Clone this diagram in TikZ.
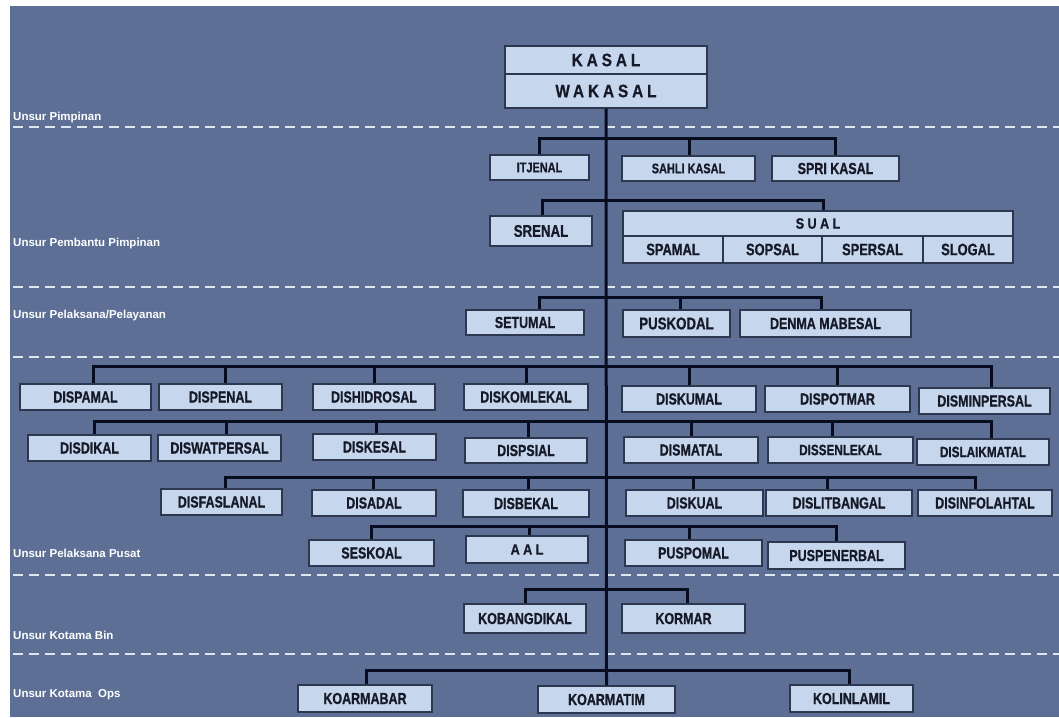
\documentclass[tikz,border=0pt]{standalone}
\usepackage{fontspec}
\setmainfont{Liberation Sans}
\newfontfamily\bxfont{Liberation Sans}[FakeStretch=0.78,FakeBold=0.8]
\newfontfamily\spfont{Liberation Sans}[FakeStretch=0.85,LetterSpace=22,FakeBold=0.6]
\usetikzlibrary{calc}
\definecolor{bgc}{RGB}{94,111,150}
\definecolor{boxfill}{RGB}{198,214,236}
\definecolor{boxline}{RGB}{45,55,80}
\definecolor{boxtext}{RGB}{22,26,40}
\definecolor{connc}{RGB}{8,12,32}
\definecolor{sepc}{RGB}{222,230,242}
\tikzset{
 box/.style={draw=boxline,line width=1.4pt,fill=boxfill,inner sep=0pt,text=boxtext,font=\bxfont\bfseries\fontsize{16}{18}\selectfont},
 fs/.style={font=\bxfont\bfseries\fontsize{#1}{#1}\selectfont},
 sp/.style={font=\spfont\bfseries\fontsize{#1}{#1}\selectfont},
 conn/.style={draw=connc,line width=3pt},
 sep/.style={draw=sepc,line width=2.7pt,dash pattern=on 10pt off 6pt},
 lbl/.style={text=white,anchor=west,inner sep=0pt,font=\bfseries\fontsize{11.5}{13}\selectfont}
}
\newcommand\mkbox[7][]{\node[box,#1,minimum width={(#5-#3)*1pt},minimum height={(#6-#4)*1pt}] (#2) at ({(#3+#5)/2},{(#4+#6)/2}) {#7};}
\newcommand\dropto[3]{\draw[conn] ($(#1.north)+(#2,0)$) |- (#3);}
\begin{document}
\begin{tikzpicture}[x=1pt,y=-1pt]
\useasboundingbox (0,0) rectangle (1059,717);
\fill[white] (0,0) rectangle (1059,717);
\fill[bgc] (10,6) rectangle (1059,717);
% separators
\foreach \yy in {127,287,357,575,654} {\draw[sep] (13,\yy) -- (1059,\yy);}
% labels
\node[lbl] (l1) at (13,118) {Unsur Pimpinan};
\node[lbl] (l2) at (13,244) {Unsur Pembantu Pimpinan};
\node[lbl] (l3) at (13,316) {Unsur Pelaksana/Pelayanan};
\node[lbl] (l4) at (13,553) {Unsur Pelaksana Pusat};
\node[lbl] (l5) at (13,635) {Unsur Kotama Bin};
\node[lbl] (l6) at (13,695) {Unsur Kotama~ Ops};
% boxes
\mkbox[sp=18]{kasal}{505}{46}{707}{74}{KASAL}
\mkbox[sp=18]{wakasal}{505}{74}{707}{108}{WAKASAL}
\mkbox[fs=14]{itjenal}{490}{155}{589}{180}{ITJENAL}
\mkbox[fs=14]{sahli}{622}{156}{755}{181}{SAHLI KASAL}
\mkbox[fs=16]{spri}{772}{156}{899}{181}{SPRI KASAL}
\mkbox[fs=17]{srenal}{490}{216}{592}{246}{SRENAL}
\mkbox[sp=15]{sual}{623}{211}{1013}{236}{SUAL}
\mkbox[fs=16.5]{spamal}{623}{236}{723}{263}{SPAMAL}
\mkbox[fs=16.5]{sopsal}{723}{236}{822}{263}{SOPSAL}
\mkbox[fs=16.5]{spersal}{822}{236}{923}{263}{SPERSAL}
\mkbox[fs=16.5]{slogal}{923}{236}{1013}{263}{SLOGAL}
\mkbox{setumal}{466}{310}{584}{335}{SETUMAL}
\mkbox[fs=17]{puskodal}{623}{310}{730}{337}{PUSKODAL}
\mkbox{denma}{740}{310}{911}{337}{DENMA MABESAL}
\mkbox{dispamal}{20}{384}{151}{410}{DISPAMAL}
\mkbox{dispenal}{159}{384}{282}{410}{DISPENAL}
\mkbox{dishidrosal}{313}{384}{435}{410}{DISHIDROSAL}
\mkbox{diskomlekal}{464}{384}{588}{410}{DISKOMLEKAL}
\mkbox{diskumal}{622}{386}{756}{412}{DISKUMAL}
\mkbox{dispotmar}{765}{386}{910}{412}{DISPOTMAR}
\mkbox{disminpersal}{919}{388}{1050}{414}{DISMINPERSAL}
\mkbox{disdikal}{28}{435}{151}{461}{DISDIKAL}
\mkbox{diswatpersal}{158}{435}{281}{461}{DISWATPERSAL}
\mkbox{diskesal}{313}{434}{436}{460}{DISKESAL}
\mkbox{dispsial}{465}{438}{587}{463}{DISPSIAL}
\mkbox{dismatal}{624}{437}{758}{463}{DISMATAL}
\mkbox[fs=15]{dissenlekal}{768}{437}{913}{463}{DISSENLEKAL}
\mkbox[fs=15]{dislaikmatal}{917}{439}{1049}{465}{DISLAIKMATAL}
\mkbox{disfaslanal}{161}{489}{282}{515}{DISFASLANAL}
\mkbox{disadal}{312}{490}{436}{516}{DISADAL}
\mkbox{disbekal}{463}{490}{589}{517}{DISBEKAL}
\mkbox{diskual}{626}{490}{763}{516}{DISKUAL}
\mkbox{dislitbangal}{766}{490}{912}{516}{DISLITBANGAL}
\mkbox{disinfolahtal}{918}{490}{1052}{516}{DISINFOLAHTAL}
\mkbox{seskoal}{309}{540}{434}{566}{SESKOAL}
\mkbox[sp=15]{aal}{466}{536}{588}{563}{AAL}
\mkbox{puspomal}{625}{540}{762}{566}{PUSPOMAL}
\mkbox{puspenerbal}{768}{542}{905}{569}{PUSPENERBAL}
\mkbox{kobangdikal}{464}{604}{586}{633}{KOBANGDIKAL}
\mkbox{kormar}{622}{604}{745}{633}{KORMAR}
\mkbox{koarmabar}{298}{685}{432}{712}{KOARMABAR}
\mkbox{koarmatim}{538}{686}{675}{713}{KOARMATIM}
\mkbox{kolinlamil}{790}{685}{913}{712}{KOLINLAMIL}
% branch points on trunk
\coordinate (b1) at (607,138);
\coordinate (b2) at (607,200);
\coordinate (b3) at (607,297);
\coordinate (b4) at (607,366);
\coordinate (b5) at (607,421);
\coordinate (b6) at (607,477);
\coordinate (b7) at (607,526);
\coordinate (b8) at (607,589);
\coordinate (b9) at (607,670);
% connectors
\draw[conn] (wakasal.south) -- (koarmatim.north);
\dropto{itjenal}{0}{b1}
\dropto{sahli}{1}{b1}
\dropto{spri}{0}{b1}
\dropto{srenal}{1}{b2}
\dropto{sual}{5}{b2}
\dropto{setumal}{14}{b3}
\dropto{puskodal}{3.5}{b3}
\dropto{denma}{-4.5}{b3}
\dropto{dispamal}{7.5}{b4}
\dropto{dispenal}{4.5}{b4}
\dropto{dishidrosal}{0}{b4}
\dropto{diskomlekal}{0}{b4}
\dropto{diskumal}{0}{b4}
\dropto{dispotmar}{0}{b4}
\dropto{disminpersal}{6.5}{b4}
\dropto{disdikal}{4.5}{b5}
\dropto{diswatpersal}{6.5}{b5}
\dropto{diskesal}{1.5}{b5}
\dropto{dispsial}{2}{b5}
\dropto{dismatal}{0}{b5}
\dropto{dissenlekal}{-8.5}{b5}
\dropto{dislaikmatal}{8}{b5}
\dropto{disfaslanal}{3.5}{b6}
\dropto{disadal}{-1}{b6}
\dropto{disbekal}{2}{b6}
\dropto{diskual}{-1.5}{b6}
\dropto{dislitbangal}{-12}{b6}
\dropto{disinfolahtal}{-10}{b6}
\dropto{seskoal}{0}{b7}
\dropto{aal}{2}{b7}
\dropto{puspomal}{-4.5}{b7}
\dropto{puspenerbal}{0}{b7}
\dropto{kobangdikal}{0}{b8}
\dropto{kormar}{3.5}{b8}
\dropto{koarmabar}{1}{b9}
\dropto{kolinlamil}{-2.5}{b9}
\end{tikzpicture}
\end{document}
